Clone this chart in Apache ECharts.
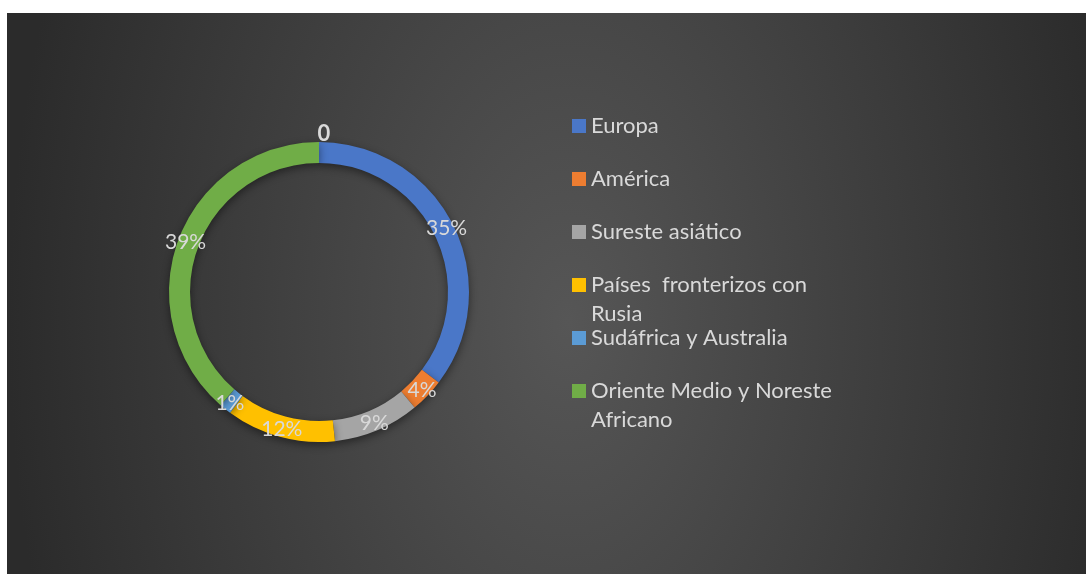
<!DOCTYPE html>
<html>
<head>
<meta charset="utf-8">
<script src="https://cdn.jsdelivr.net/npm/echarts@6/dist/echarts.min.js"></script>
<style>
  html, body { margin: 0; padding: 0; background: #ffffff; }
  #bg {
    position: absolute; left: 7px; top: 13px; width: 1079px; height: 561px;
    background: radial-gradient(ellipse 560px 900px at 52% 55%, #565656 0%, #2b2b2b 100%);
  }
  #chart { position: absolute; left: 0; top: 0; width: 1086px; height: 574px; }
</style>
</head>
<body>
<div id="bg"></div>
<div id="chart"></div>
<script>
// datos (porcentaje por region)
const regiones = ['Europa', 'América', 'Sureste asiático', 'Países  fronterizos con Rusia', 'Sudáfrica y Australia', 'Oriente Medio y Noreste Africano']
const valores = [35.3, 3.7, 9.3, 11.8, 1.3, 38.6]
const colores = ['#4a77c8', '#ed7d31', '#a5a5a5', '#ffc000', '#5b9bd5', '#70ad47']
// texto de leyenda con salto de linea como en el original
// (linea vacia delante para que la primera linea quede alineada con el icono)
const etiquetasLeyenda = {
  'Países  fronterizos con Rusia': '\nPaíses  fronterizos con\nRusia',
  'Oriente Medio y Noreste Africano': '\nOriente Medio y Noreste\nAfricano'
}
// posicion vertical (centro del icono) de cada entrada de leyenda
const leyendaY = [126, 179, 232, 285, 338, 391]

const chart = echarts.init(document.getElementById('chart'))

const textColor = '#d9d9d9'
const fontFamily = 'Lato, "Open Sans", sans-serif'
const lineH = 29

// una leyenda por entrada para mantener el espaciado fijo
const legends = regiones.map((name, i) => {
  const twoLines = !!etiquetasLeyenda[name]
  return {
    orient: 'vertical',
    left: 572,
    top: twoLines ? leyendaY[i] - lineH * 1.5 : leyendaY[i] - lineH / 2,
    padding: 0,
    itemWidth: 14,
    itemHeight: 14,
    icon: 'rect',
    data: [name],
    formatter: n => etiquetasLeyenda[n] || n,
    textStyle: {
      color: textColor,
      fontSize: 22,
      fontFamily: fontFamily,
      lineHeight: lineH
    }
  }
})

const option = {
  color: colores,
  animation: false,
  title: {
    text: '0',
    left: 319,
    top: 118,
    textAlign: 'center',
    textStyle: {
      color: textColor,
      fontSize: 22,
      fontWeight: 'bold',
      fontFamily: fontFamily
    }
  },
  legend: legends,
  series: [
    {
      type: 'pie',
      center: [319, 292],
      radius: [129, 150],
      startAngle: 90,
      clockwise: true,
      avoidLabelOverlap: false,
      itemStyle: {
        borderWidth: 0,
        shadowBlur: 8,
        shadowColor: 'rgba(0,0,0,0.45)',
        shadowOffsetY: 3
      },
      label: {
        show: true,
        position: 'inside',
        color: textColor,
        fontSize: 21,
        fontFamily: fontFamily,
        formatter: p => Math.round(p.percent) + '%'
      },
      labelLine: { show: false },
      emphasis: { disabled: true },
      data: regiones.map((name, i) => ({ name: name, value: valores[i] }))
    }
  ]
}

chart.setOption(option)
</script>
</body>
</html>
